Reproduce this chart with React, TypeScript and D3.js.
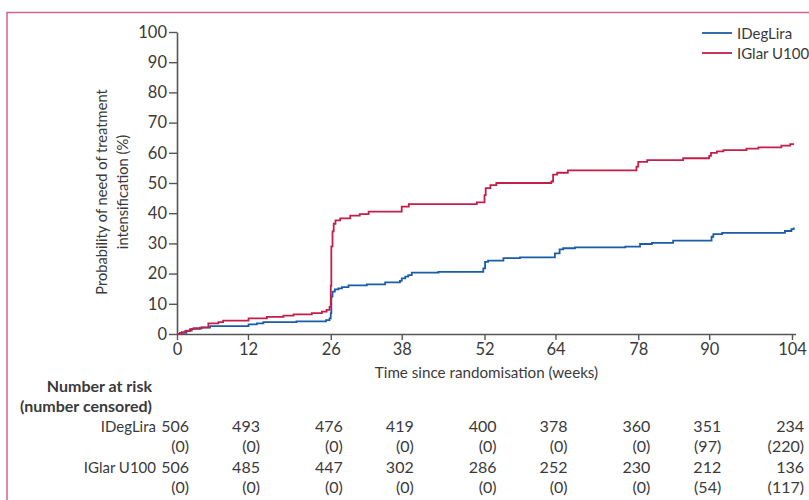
import React, { useEffect, useRef } from 'react';
import * as d3 from 'd3';

// Kaplan-Meier style cumulative curves (week, %)
const idegTimes = [0, 0.5, 1.6, 2.5, 3.9, 5.6, 12.1, 13.5, 14.6, 20.2, 25.2, 25.8, 26.0, 26.1, 26.3, 26.7, 27.3, 27.9, 29.0, 32.1, 35.2, 37.7, 38.0, 38.6, 39.1, 39.7, 44.2, 51.8, 52.1, 52.6, 55.2, 58.0, 63.9, 64.7, 65.3, 67.3, 75.8, 78.3, 80.3, 83.9, 90.4, 90.7, 92.2, 102.8, 103.9, 104.3];
const idegValues = [0, 0.4, 1.1, 1.7, 2.1, 2.6, 3.2, 3.5, 3.9, 4.2, 4.6, 5.2, 6.9, 12.4, 14.0, 14.8, 15.1, 15.5, 16.1, 16.4, 17.1, 17.6, 18.4, 19.0, 19.5, 20.3, 20.6, 21.7, 23.9, 24.3, 25.1, 25.4, 26.7, 28.0, 28.4, 28.7, 28.9, 29.8, 30.2, 30.9, 32.2, 33.1, 33.5, 34.1, 34.7, 35.3];

const iglarTimes = [0, 0.8, 1.4, 2.2, 2.8, 4.2, 5.3, 7.0, 7.8, 12.1, 15.2, 18.0, 19.7, 22.8, 24.5, 25.3, 25.8, 26.0, 26.1, 26.3, 26.5, 26.8, 27.6, 29.3, 30.9, 32.4, 38.0, 39.2, 50.7, 52.0, 52.2, 53.0, 54.0, 63.3, 63.6, 64.3, 66.1, 77.7, 78.0, 79.5, 85.6, 90.0, 90.3, 91.3, 92.4, 96.3, 98.3, 102.2, 103.7, 104.2];
const iglarValues = [0, 0.6, 1.0, 1.6, 1.9, 2.2, 3.5, 3.9, 4.4, 5.2, 5.7, 6.1, 6.5, 6.9, 7.4, 8.0, 9.0, 16, 29, 34, 36.5, 37.6, 38.3, 39.2, 39.7, 40.5, 42.2, 43.0, 43.6, 46, 48.3, 49.3, 50.0, 50.5, 52.8, 53.4, 54.2, 55.4, 57.0, 57.6, 58.2, 59.0, 60.0, 60.5, 60.9, 61.4, 61.8, 62.4, 62.9, 63.2];

const xTicks = [0, 12, 26, 38, 52, 64, 78, 90, 104];
const yTicks = [0, 10, 20, 30, 40, 50, 60, 70, 80, 90, 100];

const seriesNames = ['IDegLira', 'IGlar U100'];
const idegAtRisk = [506, 493, 476, 419, 400, 378, 360, 351, 234];
const idegCensored = [0, 0, 0, 0, 0, 0, 0, 97, 220];
const iglarAtRisk = [506, 485, 447, 302, 286, 252, 230, 212, 136];
const iglarCensored = [0, 0, 0, 0, 0, 0, 0, 54, 117];

const BLUE = '#1a5ca6';
const RED = '#c41e4a';
const TEXT = '#3a3a3a';
const AXIS = '#555';
const FONT = 'Lato, "Open Sans", sans-serif';

const W = 809;
const H = 500;

export default function App() {
  const svgRef = useRef<SVGSVGElement>(null);

  useEffect(() => {
    const svg = d3.select(svgRef.current);
    svg.selectAll('*').remove();

    const x = d3.scaleLinear().domain([0, 104]).range([177, 792]);
    const y = d3.scaleLinear().domain([0, 100]).range([334, 32]);

    // pink frame (top + left only, runs off the page)
    svg.append('path')
      .attr('d', `M7,${H + 5} L7,12.5 L${W + 5},12.5`)
      .attr('fill', 'none')
      .attr('stroke', '#d6638a')
      .attr('stroke-width', 1.5);

    // y axis
    const yAxis = svg.append('g')
      .attr('transform', `translate(${x(0)},0)`)
      .call(d3.axisLeft(y).tickValues(yTicks).tickSize(8).tickPadding(2).tickSizeOuter(0));
    yAxis.select('.domain').attr('stroke', AXIS).attr('stroke-width', 1.6);
    yAxis.selectAll('.tick line').attr('stroke', AXIS).attr('stroke-width', 1.4);
    yAxis.selectAll('.tick text')
      .attr('fill', TEXT).style('font-family', FONT).style('font-size', '16.5px');

    // x axis
    const xAxis = svg.append('g')
      .attr('transform', `translate(0,${y(0)})`)
      .call(d3.axisBottom(x).tickValues(xTicks).tickSize(6).tickPadding(3).tickSizeOuter(0));
    xAxis.select('.domain').attr('stroke', AXIS).attr('stroke-width', 1.6)
      .attr('d', `M${x(0)},0.5H${x(104) + 4}`);
    xAxis.selectAll('.tick line').attr('stroke', AXIS).attr('stroke-width', 1.4);
    xAxis.selectAll('.tick text')
      .attr('fill', TEXT).style('font-family', FONT).style('font-size', '16.5px');

    svg.append('text')
      .attr('x', (x(0) + x(104)) / 2 + 2)
      .attr('y', 378)
      .attr('text-anchor', 'middle')
      .attr('fill', TEXT)
      .style('font-family', FONT).style('font-size', '15.2px')
      .text('Time since randomisation (weeks)');

    // y axis title, two lines
    const ytitle = ['Probability of need of treatment', 'intensification (%)'];
    ytitle.forEach((t, i) => {
      svg.append('text')
        .attr('transform', `translate(${107 + i * 21},192) rotate(-90)`)
        .attr('text-anchor', 'middle')
        .attr('fill', TEXT)
        .style('font-family', FONT).style('font-size', '14.7px')
        .text(t);
    });

    // curves
    const line = d3.line<[number, number]>()
      .x(d => x(d[0]))
      .y(d => y(d[1]))
      .curve(d3.curveStepAfter);

    const curves = [
      { color: BLUE, pts: idegTimes.map((t, i) => [t, idegValues[i]] as [number, number]) },
      { color: RED, pts: iglarTimes.map((t, i) => [t, iglarValues[i]] as [number, number]) },
    ];
    curves.forEach(c => {
      svg.append('path')
        .datum(c.pts)
        .attr('d', line)
        .attr('fill', 'none')
        .attr('stroke', c.color)
        .attr('stroke-width', 1.8);
    });

    // legend
    seriesNames.forEach((name, i) => {
      const ly = 33 + i * 20;
      svg.append('line')
        .attr('x1', 702).attr('x2', 732)
        .attr('y1', ly).attr('y2', ly)
        .attr('stroke', i === 0 ? BLUE : RED)
        .attr('stroke-width', 1.8);
      svg.append('text')
        .attr('x', 737).attr('y', ly + 6)
        .attr('fill', TEXT)
        .style('font-family', FONT).style('font-size', '15px')
        .text(name);
    });

    // number at risk table
    const head = ['Number at risk', '(number censored)'];
    head.forEach((t, i) => {
      svg.append('text')
        .attr('x', 152).attr('y', 392 + i * 20)
        .attr('text-anchor', 'end')
        .attr('fill', TEXT)
        .style('font-family', FONT).style('font-size', '16px').style('font-weight', 'bold')
        .text(t);
    });

    const rows = [
      { label: seriesNames[0], vals: idegAtRisk.map(String) },
      { label: '', vals: idegCensored.map(v => `(${v})`) },
      { label: seriesNames[1], vals: iglarAtRisk.map(String) },
      { label: '', vals: iglarCensored.map(v => `(${v})`) },
    ];
    rows.forEach((r, i) => {
      const ry = 432 + i * 20.3;
      if (r.label) {
        svg.append('text')
          .attr('x', 156).attr('y', ry)
          .attr('text-anchor', 'end')
          .attr('fill', TEXT)
          .style('font-family', FONT).style('font-size', '15px')
          .text(r.label);
      }
      r.vals.forEach((v, j) => {
        svg.append('text')
          .attr('x', x(xTicks[j]) + 12).attr('y', ry)
          .attr('text-anchor', 'end')
          .attr('fill', TEXT)
          .style('font-family', FONT).style('font-size', '16px')
          .text(v);
      });
    });
  }, []);

  return (
    <svg
      ref={svgRef}
      width={W}
      height={H}
      style={{ position: 'absolute', left: 0, top: 0, background: '#fff' }}
    />
  );
}
